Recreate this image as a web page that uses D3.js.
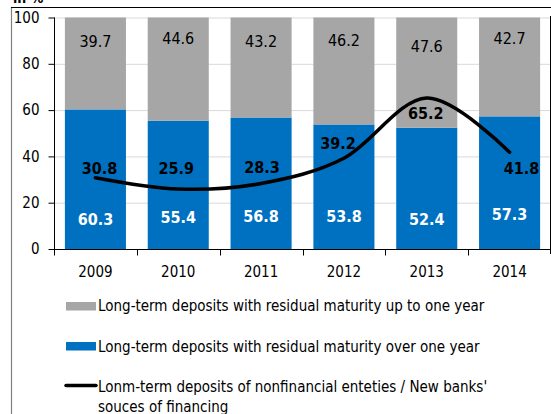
<!DOCTYPE html>
<html>
<head>
<meta charset="utf-8">
<script src="https://cdn.jsdelivr.net/npm/d3@7"></script>
<style>
  body { margin: 0; background: #fff; }
  text { font-family: "DejaVu Sans Condensed", "DejaVu Sans", sans-serif; }
</style>
</head>
<body>
<div id="vis"></div>
<script type="text/javascript">

    const years = ["2009", "2010", "2011", "2012", "2013", "2014"];
    const overOneYear = [60.3, 55.4, 56.8, 53.8, 52.4, 57.3];
    const upToOneYear = [39.7, 44.6, 43.2, 46.2, 47.6, 42.7];
    const nonFinancialShare = [30.8, 25.9, 28.3, 39.2, 65.2, 41.8];
    const yTicks = [0, 20, 40, 60, 80, 100];
    const legendLabels = [
        "Long-term deposits with residual maturity up to one year",
        "Long-term deposits with residual maturity over one year",
        "Lonm-term deposits of nonfinancial enteties / New banks'",
        "souces of financing"
    ];

    const W = 551, H = 414;
    const grey = "#a6a6a6", blue = "#0070c0";

    const svg = d3.select("#vis").append("svg").attr("width", W).attr("height", H);

    // outer frame (only top and left visible in the crop)
    svg.append("line").attr("x1", 11.5).attr("x2", 11.5).attr("y1", 7).attr("y2", H)
        .style("stroke", "#808080").style("stroke-width", 1.2);
    svg.append("line").attr("x1", 11).attr("x2", W).attr("y1", 7.5).attr("y2", 7.5)
        .style("stroke", "#000").style("stroke-width", 1);
    svg.append("text").attr("x", 13).attr("y", 3).text("in %")
        .style("font-size", "14px").style("font-weight", "bold");

    const x = d3.scaleBand().domain(years).range([54, 551]).paddingInner(0.263).paddingOuter(0.1315);
    const y = d3.scaleLinear().domain([0, 100]).range([249, 17.5]);

    // gridlines
    svg.append("g").selectAll("line").data(yTicks.filter(d => d > 0)).join("line")
        .attr("x1", 54).attr("x2", 550)
        .attr("y1", d => y(d) + 0.5).attr("y2", d => y(d) + 0.5)
        .style("stroke", "#d9d9d9").style("stroke-width", 1);

    // stacked bars
    const bars = svg.append("g");
    bars.selectAll("rect.blue").data(years).join("rect").attr("class", "blue")
        .attr("x", d => x(d)).attr("width", x.bandwidth())
        .attr("y", (d, i) => y(overOneYear[i])).attr("height", (d, i) => y(0) - y(overOneYear[i]))
        .style("fill", blue);
    bars.selectAll("rect.grey").data(years).join("rect").attr("class", "grey")
        .attr("x", d => x(d)).attr("width", x.bandwidth())
        .attr("y", (d, i) => y(overOneYear[i] + upToOneYear[i]))
        .attr("height", (d, i) => y(overOneYear[i]) - y(overOneYear[i] + upToOneYear[i]))
        .style("fill", grey);

    // right border of plot area
    svg.append("line").attr("x1", 550.5).attr("x2", 550.5).attr("y1", 16).attr("y2", 254)
        .style("stroke", "#000");

    // axes
    const yAxis = svg.append("g").attr("transform", "translate(54.5,0)")
        .call(d3.axisLeft(y).tickValues(yTicks).tickSize(6).tickPadding(9));
    yAxis.select(".domain").attr("d", `M0,${y(100)}V${y(0)}`);
    yAxis.selectAll("text").style("font-size", "15px").style("fill", "#000")
        .attr("font-family", null);

    const xAxis = svg.append("g").attr("transform", `translate(0,${y(0) + 0.5})`);
    xAxis.append("line").attr("x1", 54).attr("x2", 551).style("stroke", "#000");
    const bounds = years.map(d => x(d) - x.step() * x.paddingInner() / 2).concat([551 - 0.5]);
    xAxis.selectAll("line.tick").data(bounds.slice(0, 6)).join("line").attr("class", "tick")
        .attr("x1", d => Math.round(d) + 0.5).attr("x2", d => Math.round(d) + 0.5)
        .attr("y1", 0).attr("y2", 6).style("stroke", "#000");
    xAxis.selectAll("text").data(years).join("text")
        .attr("x", d => x(d) + x.bandwidth() / 2).attr("y", 27)
        .attr("text-anchor", "middle").style("font-size", "15px").text(d => d);

    // bar labels
    const greyDy = [0, -3, -0.5, -1.5, 5, -3];
    svg.append("g").selectAll("text").data(years).join("text")
        .attr("x", d => x(d) + x.bandwidth() / 2)
        .attr("y", (d, i) => y(100) + 24 + greyDy[i] + 5.5)
        .attr("text-anchor", "middle").style("font-size", "16px").style("fill", "#000")
        .text((d, i) => upToOneYear[i].toFixed(1));

    const blueDy = [1, -1, -1.5, -1.5, 1.5, -3.5];
    svg.append("g").selectAll("text").data(years).join("text")
        .attr("x", d => x(d) + x.bandwidth() / 2)
        .attr("y", (d, i) => y(0) - 31.5 + blueDy[i] + 6)
        .attr("text-anchor", "middle").style("font-size", "16px").style("font-weight", "bold")
        .style("fill", "#fff")
        .text((d, i) => overOneYear[i].toFixed(1));

    // smoothed line
    const cx = d => x(d) + x.bandwidth() / 2;
    const line = d3.line().x((d, i) => cx(years[i])).y(d => y(d)).curve(d3.curveCardinal.tension(0));
    svg.append("path").datum(nonFinancialShare).attr("d", line)
        .style("fill", "none").style("stroke", "#000").style("stroke-width", 3.5)
        .style("stroke-linecap", "round");

    const lineDx = [4, -2, 1, -6, -1, 12];
    const lineDy = [-10, -21, -16, -15, 15, 16];
    svg.append("g").selectAll("text").data(nonFinancialShare).join("text")
        .attr("x", (d, i) => cx(years[i]) + lineDx[i])
        .attr("y", (d, i) => y(d) + lineDy[i] + 6)
        .attr("text-anchor", "middle").style("font-size", "16px").style("font-weight", "bold")
        .style("fill", "#000")
        .text(d => d.toFixed(1));

    // legend
    const lg = svg.append("g");
    lg.append("rect").attr("x", 66).attr("y", 302).attr("width", 30).attr("height", 8.5).style("fill", grey);
    lg.append("rect").attr("x", 66).attr("y", 342).attr("width", 30).attr("height", 8.5).style("fill", blue);
    lg.append("line").attr("x1", 66).attr("x2", 96).attr("y1", 385.5).attr("y2", 385.5)
        .style("stroke", "#000").style("stroke-width", 3.5).style("stroke-linecap", "round");
    const ly = [311, 351.5, 391.5, 411.5];
    lg.selectAll("text").data(legendLabels).join("text")
        .attr("x", 98).attr("y", (d, i) => ly[i])
        .style("font-size", "15px").style("fill", "#000")
        .text(d => d);

</script>
</body>
</html>
